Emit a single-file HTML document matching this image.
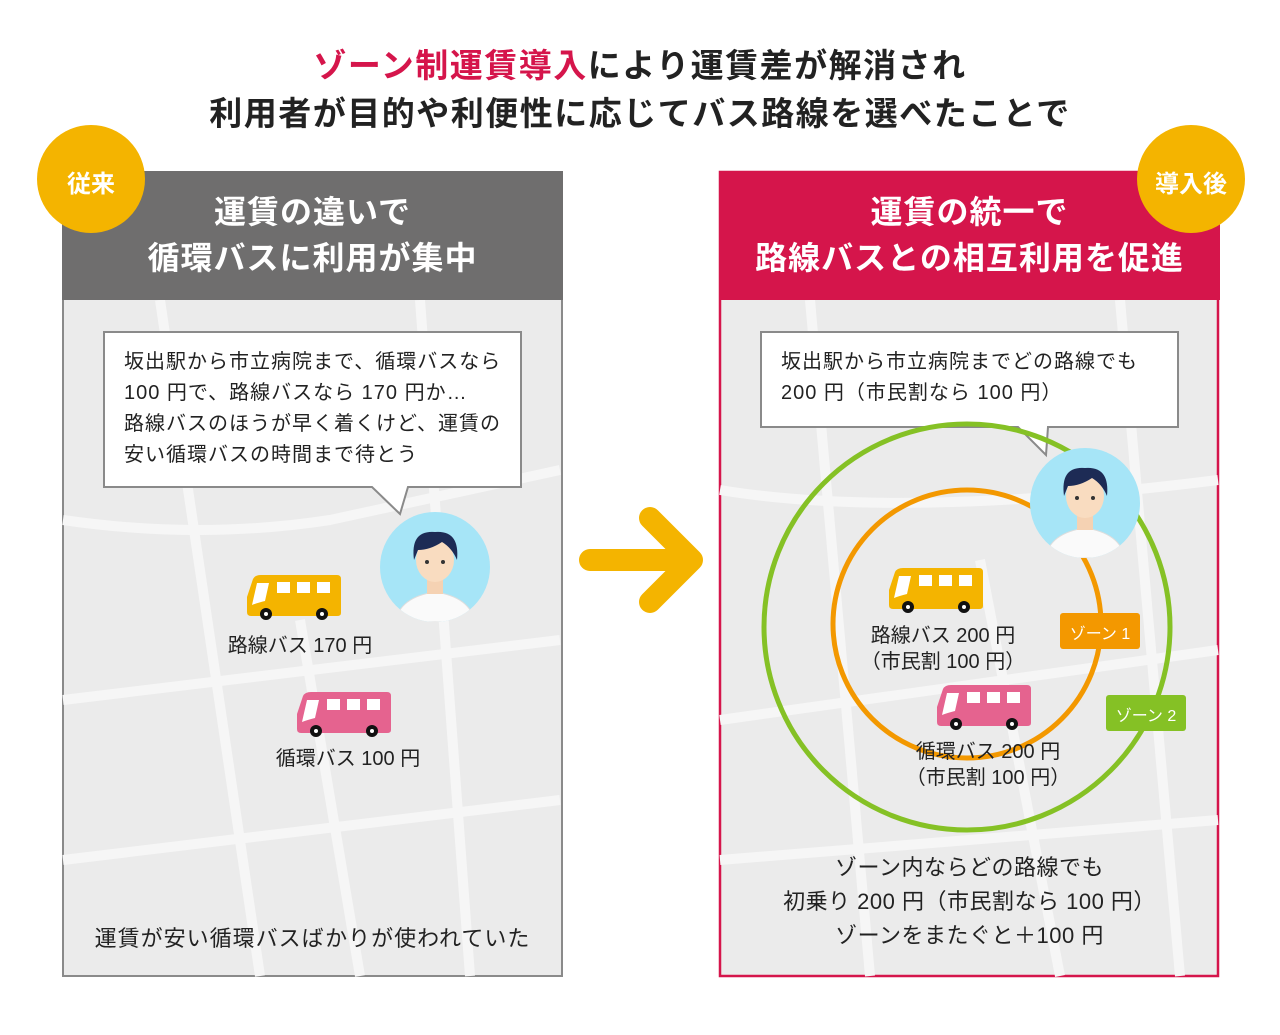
<!DOCTYPE html>
<html><head><meta charset="utf-8"><style>
body{margin:0;width:1280px;height:1035px;background:#fff;position:relative;overflow:hidden;font-family:"Liberation Sans","Noto Sans CJK JP",sans-serif;color:#222}
.a{position:absolute;white-space:nowrap}
.t{font-size:33px;font-weight:bold;left:0;width:1280px;text-align:center;color:#222;letter-spacing:1.5px}
.h{color:#fff;font-size:32px;font-weight:bold;text-align:center;line-height:46px;letter-spacing:1px}
.c{font-size:20px;line-height:31px;letter-spacing:1px}
.b{font-size:20px;line-height:26px;text-align:center}
</style></head><body>
<svg class="a" style="left:0;top:0" width="1280" height="1035">
<defs>
<symbol id="bus" viewBox="0 0 94 46">
<path d="M6 4 Q8 0 14 0 H90 Q94 0 94 4 V38 Q94 41 90 41 H4 Q0 41 0 37 V22 Z" fill="currentColor"/>
<path d="M10 8 H22 L18 26 Q10 28 5 30 Z" fill="#fff"/>
<rect x="30" y="7" width="13" height="11" fill="#fff"/><rect x="50" y="7" width="13" height="11" fill="#fff"/><rect x="70" y="7" width="13" height="11" fill="#fff"/>
<circle cx="19" cy="39" r="6" fill="#111"/><circle cx="19" cy="39" r="2" fill="#fff"/>
<circle cx="75" cy="39" r="6" fill="#111"/><circle cx="75" cy="39" r="2" fill="#fff"/>
</symbol>
<symbol id="per" viewBox="0 0 110 110">
<circle cx="55" cy="55" r="55" fill="#a6e5f7"/>
<clipPath id="cp"><circle cx="55" cy="55" r="55"/></clipPath>
<g clip-path="url(#cp)">
<path d="M15 110 Q20 85 55 80 Q90 85 95 110 Z" fill="#fafafa" stroke="#ddd"/>
<rect x="47" y="62" width="16" height="20" fill="#f5d2b3"/>
<ellipse cx="55" cy="48" rx="19" ry="22" fill="#f9dcc0"/>
<path d="M34 48 Q30 18 55 20 Q80 18 77 48 Q72 36 62 30 Q50 38 38 38 Z" fill="#1d2b55"/>
<circle cx="47" cy="50" r="2" fill="#333"/><circle cx="63" cy="50" r="2" fill="#333"/>
</g></symbol>
</defs>
<rect x="63" y="172" width="499" height="804" fill="#ebebeb" stroke="#8a8a8a" stroke-width="2"/>
<g stroke="#f6f6f6" stroke-width="10" fill="none">
<path d="M63 520 Q200 540 330 520 L560 470"/><path d="M63 700 L560 640"/><path d="M160 300 L260 976"/><path d="M420 300 L470 976"/><path d="M63 860 L560 800"/><path d="M300 620 L360 976"/>
</g>
<rect x="62" y="171" width="501" height="129" fill="#6f6e6e"/>
<rect x="720" y="172" width="498" height="804" fill="#ebebeb" stroke="#d5154b" stroke-width="2.5"/>
<g stroke="#f6f6f6" stroke-width="10" fill="none">
<path d="M720 490 Q900 520 1218 480"/><path d="M720 720 L1218 650"/><path d="M810 300 L870 976"/><path d="M1120 300 L1180 976"/><path d="M720 860 L1218 820"/><path d="M980 560 L1060 976"/>
</g>
<rect x="719" y="171" width="501" height="129" fill="#d5154b"/>
<circle cx="91" cy="179" r="54" fill="#f4b400"/>
<circle cx="1191" cy="179" r="54" fill="#f4b400"/>
<path d="M590 560 H690 M650 518 L692 560 L650 602" stroke="#f4b400" stroke-width="22" fill="none" stroke-linecap="round" stroke-linejoin="round"/>
<path d="M104 332 H521 V487 H408 L400 514 L372 487 H104 Z" fill="#fff" stroke="#8a8a8a" stroke-width="2"/>
<path d="M761 332 H1178 V427 H1048 L1046 455 L1018 427 H761 Z" fill="#fff" stroke="#8a8a8a" stroke-width="2"/>
<use href="#per" x="380" y="512" width="110" height="110"/>
<use href="#bus" x="247" y="575" width="94" height="46" style="color:#f4b400"/>
<use href="#bus" x="297" y="692" width="94" height="46" style="color:#e5638f"/>
<circle cx="967" cy="627" r="203" fill="none" stroke="#85c125" stroke-width="5"/>
<circle cx="967" cy="624" r="134" fill="none" stroke="#f39800" stroke-width="5"/>
<use href="#per" x="1030" y="448" width="110" height="110"/>
<use href="#bus" x="889" y="568" width="94" height="46" style="color:#f4b400"/>
<use href="#bus" x="937" y="685" width="94" height="46" style="color:#e5638f"/>
<rect x="1060" y="613" width="80" height="36" rx="3" fill="#f39800"/>
<rect x="1106" y="695" width="80" height="36" rx="3" fill="#85c125"/>
</svg>
<div class="a t" style="top:43px;line-height:46px"><span style="color:#d5154b">ゾーン制運賃導入</span>により運賃差が解消され</div>
<div class="a t" style="top:91px;line-height:46px">利用者が目的や利便性に応じてバス路線を選べたことで</div>
<div class="a" style="left:37px;top:164px;width:108px;text-align:center;color:#fff;font-size:24px;font-weight:bold">従来</div>
<div class="a" style="left:1137px;top:164px;width:108px;text-align:center;color:#fff;font-size:24px;font-weight:bold">導入後</div>
<div class="a h" style="left:62px;top:189px;width:501px">運賃の違いで<br>循環バスに利用が集中</div>
<div class="a h" style="left:719px;top:189px;width:501px">運賃の統一で<br>路線バスとの相互利用を促進</div>
<div class="a c" style="left:124px;top:347px">坂出駅から市立病院まで、循環バスなら<br>100 円で、路線バスなら 170 円か…<br>路線バスのほうが早く着くけど、運賃の<br>安い循環バスの時間まで待とう</div>
<div class="a c" style="left:781px;top:347px">坂出駅から市立病院までどの路線でも<br>200 円（市民割なら 100 円）</div>
<div class="a b" style="left:200px;top:633px;width:200px">路線バス 170 円</div>
<div class="a b" style="left:248px;top:746px;width:200px">循環バス 100 円</div>
<div class="a b" style="left:828px;top:623px;width:230px">路線バス 200 円<br>（市民割 100 円）</div>
<div class="a b" style="left:873px;top:739px;width:230px">循環バス 200 円<br>（市民割 100 円）</div>
<div class="a" style="left:1060px;top:620px;width:80px;text-align:center;color:#fff;font-size:16px">ゾーン 1</div>
<div class="a" style="left:1106px;top:702px;width:80px;text-align:center;color:#fff;font-size:16px">ゾーン 2</div>
<div class="a" style="left:62px;top:921px;width:501px;text-align:center;font-size:22px;letter-spacing:1px">運賃が安い循環バスばかりが使われていた</div>
<div class="a" style="left:719px;top:851px;width:501px;text-align:center;font-size:22px;line-height:34px;letter-spacing:.5px">ゾーン内ならどの路線でも<br>初乗り 200 円（市民割なら 100 円）<br>ゾーンをまたぐと＋100 円</div>
</body></html>
